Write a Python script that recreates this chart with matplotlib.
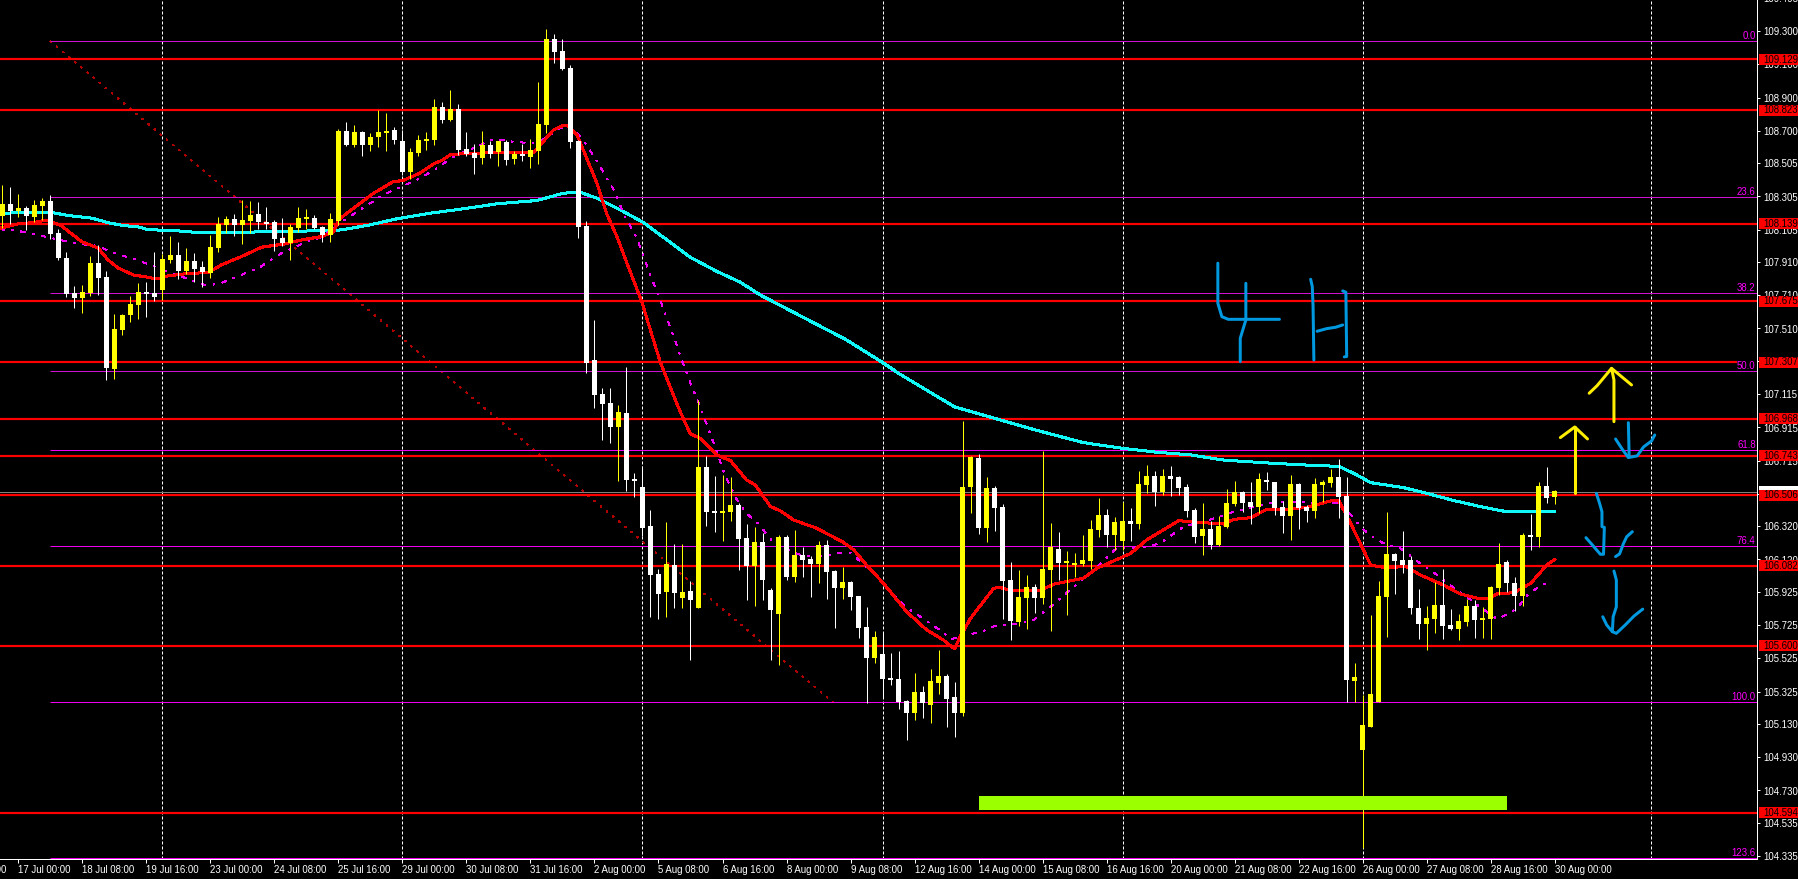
import matplotlib
matplotlib.use("Agg")
import matplotlib.pyplot as plt
from matplotlib.patches import Rectangle
from matplotlib.transforms import blended_transform_factory

plt.rcParams['font.family'] = ['Liberation Sans', 'DejaVu Sans']
plt.rcParams['lines.scale_dashes'] = False

# ---------- candles (4h bars), Y = up (yellow), W = down (white) ----------
kinds = ("YWYWYYWWWW" "YYWWYYYYWW" "YYWYWWYYYW" "YYWWWWYYYW" "WYYWYWYYYW"
         "WYYYYWYWWW" "YWYWYWYYYW" "WWWWWWWYWW" "WWWYWYWYWW" "YYWWYWWYWY"
         "WWYWWYWWWY" "WWWWYWYYWW" "YYWYWWWYYW" "YYWYYYYYWY" "YWYYWYWWWW"
         "YWYYYWWYWW" "WYWWYYYWWY" "YYYYWWWWYY" "WWYYWYYYWW" "YWYWY")

highs = [108.374,108.362,108.320,108.244,108.284,108.296,108.314,108.109,107.971,107.766,
         107.772,107.947,108.013,107.856,107.598,107.598,107.706,107.784,107.790,107.971,
         107.959,108.067,108.031,107.995,107.965,107.917,108.073,108.182,108.188,108.200,
         108.284,108.278,108.272,108.242,108.164,108.176,108.139,108.242,108.230,108.194,
         108.127,108.206,108.712,108.754,108.736,108.700,108.688,108.826,108.808,108.724,
         108.706,108.597,108.676,108.694,108.892,108.874,108.947,108.862,108.694,108.621,
         108.700,108.639,108.639,108.645,108.579,108.621,108.652,108.995,109.314,109.284,
         109.254,109.097,108.645,108.158,107.562,107.152,107.152,107.050,107.278,106.640,
         106.682,106.417,106.062,106.345,106.213,106.213,105.990,107.080,106.743,106.622,
         106.628,106.616,106.460,106.333,106.315,106.279,105.948,106.267,106.267,106.297,
         106.195,106.141,106.232,106.238,106.057,106.075,105.991,105.900,105.834,105.690,
         105.684,105.557,105.569,105.274,105.437,105.359,105.461,105.575,105.431,105.383,
         106.954,106.742,106.754,106.616,106.562,106.453,106.104,106.056,106.026,105.972,
         106.773,106.339,106.285,106.170,106.158,106.267,106.357,106.490,106.423,106.375,
         106.465,106.429,106.652,106.688,106.652,106.664,106.682,106.622,106.574,106.429,
         106.459,106.351,106.381,106.544,106.592,106.532,106.586,106.640,106.646,106.586,
         106.471,106.628,106.580,106.447,106.610,106.598,106.664,106.724,106.616,105.496,
         105.304,105.786,105.990,106.406,106.159,106.291,106.141,105.942,105.840,105.984,
         106.062,105.821,105.791,105.882,105.876,105.834,105.960,106.219,106.116,106.014,
         106.279,106.393,106.586,106.676,106.538]

body_tops = [108.260,108.260,108.236,108.236,108.254,108.278,108.278,108.085,107.935,107.724,
             107.730,107.905,107.905,107.820,107.507,107.592,107.658,107.730,107.730,107.724,
             107.929,107.953,107.953,107.917,107.917,107.881,108.001,108.139,108.170,108.170,
             108.164,108.194,108.200,108.152,108.152,108.055,108.121,108.176,108.176,108.176,
             108.121,108.170,108.700,108.700,108.694,108.694,108.664,108.694,108.700,108.706,
             108.639,108.573,108.645,108.651,108.844,108.844,108.832,108.832,108.591,108.567,
             108.615,108.615,108.639,108.633,108.561,108.561,108.585,108.742,109.254,109.254,
             109.181,109.079,108.639,108.128,107.321,107.116,107.062,107.008,107.001,106.604,
             106.556,106.321,106.032,106.092,106.086,105.924,105.930,106.676,106.676,106.411,
             106.411,106.448,106.448,106.249,106.225,106.225,105.936,106.255,106.255,106.147,
             106.147,106.123,106.207,106.207,106.051,105.985,105.985,105.900,105.714,105.654,
             105.551,105.407,105.401,105.268,105.322,105.322,105.389,105.419,105.419,105.292,
             106.556,106.736,106.730,106.550,106.550,106.435,105.996,105.894,105.954,105.954,
             106.062,106.195,106.182,106.104,106.098,106.116,106.303,106.387,106.387,106.345,
             106.351,106.351,106.574,106.622,106.622,106.622,106.622,106.616,106.556,106.417,
             106.303,106.303,106.321,106.459,106.526,106.526,106.465,106.604,106.598,106.586,
             106.435,106.574,106.574,106.435,106.574,106.586,106.616,106.616,106.502,105.412,
             105.123,105.310,105.900,106.153,106.153,106.116,106.116,105.827,105.767,105.846,
             105.846,105.725,105.749,105.840,105.840,105.767,105.954,106.092,106.104,105.978,
             106.267,106.267,106.562,106.562,106.532]

body_bottoms = [108.188,108.218,108.218,108.188,108.182,108.248,108.079,107.935,107.718,107.694,
                107.694,107.724,107.814,107.272,107.266,107.501,107.592,107.652,107.718,107.700,
                107.742,107.923,107.856,107.856,107.868,107.850,107.844,107.995,108.133,108.133,
                108.133,108.157,108.152,108.139,108.049,108.025,108.025,108.115,108.170,108.115,
                108.073,108.073,108.158,108.615,108.615,108.615,108.615,108.664,108.688,108.645,
                108.453,108.453,108.567,108.639,108.645,108.766,108.766,108.585,108.561,108.537,
                108.537,108.561,108.573,108.525,108.531,108.549,108.543,108.579,108.736,109.175,
                109.073,108.633,108.122,107.303,107.110,107.056,106.917,106.917,106.598,106.592,
                106.309,106.026,105.912,105.924,105.918,105.888,105.876,105.828,106.405,106.399,
                106.399,106.405,106.243,106.080,106.080,105.996,105.816,105.792,106.014,106.014,
                106.116,106.093,106.093,106.045,105.949,105.949,105.894,105.708,105.527,105.527,
                105.401,105.395,105.262,105.196,105.196,105.256,105.244,105.377,105.280,105.196,
                105.196,106.556,106.309,106.309,106.429,105.990,105.749,105.743,105.887,105.887,
                105.887,106.056,106.098,106.098,106.086,106.092,106.110,106.297,106.267,106.267,
                106.231,106.333,106.333,106.568,106.526,106.526,106.604,106.550,106.411,106.255,
                106.261,106.207,106.207,106.315,106.453,106.459,106.435,106.435,106.586,106.429,
                106.381,106.381,106.429,106.411,106.411,106.568,106.580,106.496,105.394,105.388,
                104.973,105.111,105.262,105.894,106.110,106.086,105.827,105.731,105.731,105.761,
                105.719,105.701,105.701,105.743,105.755,105.755,105.761,105.948,105.978,105.900,
                105.900,106.255,106.255,106.490,106.496]

lows = [108.113,108.139,108.182,108.103,108.152,108.164,108.049,107.923,107.700,107.634,
        107.604,107.706,107.712,107.200,107.206,107.471,107.549,107.567,107.579,107.676,
        107.682,107.905,107.808,107.838,107.790,107.760,107.814,107.971,108.085,108.067,
        108.019,108.085,108.109,108.109,107.977,108.007,107.923,108.091,108.109,108.109,
        108.031,108.031,108.134,108.609,108.603,108.549,108.579,108.603,108.579,108.621,
        108.435,108.411,108.549,108.585,108.615,108.748,108.760,108.555,108.549,108.441,
        108.501,108.537,108.489,108.495,108.501,108.519,108.477,108.501,108.688,109.109,
        109.067,108.597,108.055,107.243,107.032,106.839,106.821,106.592,106.532,106.496,
        106.261,105.774,105.762,105.774,105.828,105.828,105.515,105.828,106.321,106.285,
        106.231,106.351,106.056,105.876,105.840,105.876,105.515,105.485,105.996,105.984,
        106.014,105.894,105.979,105.882,105.708,105.882,105.816,105.648,105.256,105.497,
        105.292,105.365,105.220,105.033,105.154,105.166,105.136,105.310,105.112,105.051,
        105.178,106.399,106.273,106.225,106.291,105.761,105.635,105.719,105.701,105.797,
        105.851,105.689,105.996,105.785,106.014,106.080,106.062,106.255,106.195,106.176,
        106.176,106.231,106.303,106.520,106.441,106.508,106.502,106.508,106.375,106.219,
        106.146,106.182,106.201,106.309,106.441,106.405,106.333,106.399,106.538,106.387,
        106.279,106.237,106.303,106.345,106.369,106.465,106.556,106.369,105.262,105.262,
        104.383,105.111,105.262,105.653,105.912,106.038,105.791,105.641,105.575,105.677,
        105.641,105.695,105.635,105.719,105.647,105.647,105.641,105.906,105.924,105.809,
        105.840,106.177,106.195,106.460,106.454]

# ---------- moving averages (bar position, price) ----------
red_ma_x = [-0.3,1.9,3.9,4.9,5.9,7.4,9.9,12,13.2,14.5,16.4,18.2,19.3,20.7,23.2,25.7,27.4,29.9,32.4,35.3,37.4,39.9,
            41.4,42,43.9,46.4,48.9,50,52.2,53.9,55.1,56,57.6,59.7,61.8,64.3,66.4,67.6,68.9,70,70.6,71.8,72.6,74.3,
            75.5,76.8,78.3,79.9,82.2,84.1,84.9,85.95,87.2,89.3,91,93,94.1,96,97.2,98.9,101.8,105.1,106.4,108,110.1,
            113,115.5,117.6,119,119.7,121,123.9,124.7,125.95,129.7,131.4,135.1,136.8,140.1,141,143,147,150.1,152.6,
            153.9,156,158,160.5,163,166,167,168.5,169.9,171,172.6,175.5,177.2,180.1,182.2,184.7,185.5,186.8,188.9,
            191,193,194]
red_ma_y = [108.113,108.139,108.147,108.157,108.157,108.127,108.033,107.993,107.923,107.873,107.832,107.818,107.808,
            107.826,107.841,107.846,107.893,107.943,107.999,108.019,108.043,108.063,108.090,108.164,108.234,108.324,
            108.395,108.399,108.445,108.501,108.525,108.557,108.561,108.565,108.571,108.571,108.571,108.635,108.706,
            108.730,108.730,108.676,108.585,108.385,108.204,108.063,107.873,107.672,107.311,107.080,106.990,106.877,
            106.849,106.749,106.714,106.598,106.568,106.438,106.413,106.357,106.307,106.223,106.177,106.086,105.977,
            105.806,105.696,105.635,105.581,105.656,105.766,105.947,105.951,105.933,105.933,105.971,106.007,106.067,
            106.137,106.156,106.237,106.353,106.341,106.333,106.361,106.371,106.421,106.421,106.433,106.472,106.474,
            106.337,106.197,106.086,106.072,106.076,106.026,105.966,105.912,105.882,105.882,105.912,105.920,105.976,
            106.086,106.120]

slow_ma_x = [-0.3,2,4.9,7.8,9.9,12,13.7,16.6,19.5,22.4,25.3,27,29.1,32,34.9,37.8,39.9,42.2,44.7,47.6,51.8,53.9,55.5,
             56.8,58.9,61.4,64.3,66.8,68.5,69.7,71.6,73,74.7,76.4,77.8,79.3,80.5,82.2,83.9,84.9,86,87.2,88.9,90.3,
             91.8,93,94.7,95.7,96.8,99.7,102.2,104.7,105.95,107.6,109.7,112.2,113.45,115.3,117.6,118.5,120.5,122.6,
             124.3,125.5,127.2,128.9,131.4,133.45,136.4,139.3,142.2,144.7,147.6,151,153.9,158.5,161.4,165.5,167.2,
             168.9,169.9,171.6,173,174.7,177.2,178.9,180.5,183,184.9,186.8,187.8,189.3,190.7,192.4,193.7]
slow_ma_y = [108.107,108.097,108.067,108.037,108.017,108.007,107.967,107.927,107.873,107.822,107.772,107.776,107.818,
             107.873,107.963,108.027,108.059,108.144,108.224,108.314,108.405,108.461,108.515,108.555,108.595,108.650,
             108.631,108.625,108.676,108.716,108.702,108.615,108.485,108.344,108.184,108.053,107.893,107.682,107.461,
             107.321,107.180,107.040,106.819,106.628,106.478,106.397,106.327,106.257,106.207,106.147,106.137,106.161,
             106.161,106.092,106.000,105.866,105.816,105.756,105.680,105.640,105.662,105.690,105.724,105.724,105.736,
             105.756,105.852,105.937,106.057,106.190,106.187,106.217,106.317,106.361,106.407,106.461,106.467,106.458,
             106.458,106.367,106.307,106.243,106.207,106.187,106.096,106.040,105.980,105.896,105.825,105.761,105.785,
             105.825,105.912,105.966,105.986]

cyan_ma_x = [-0.3,6.2,8.2,11.2,13.2,14.9,17,18.2,22,24.5,29.1,33.2,38.7,42.4,46,49.3,53.5,57.6,61.8,66.8,70.1,72.2,
             74.3,77.6,80.1,83.9,85.95,89.3,92.2,94.7,105.5,110,112.2,119,129.1,135.1,139.9,144.3,148.5,152.6,158.9,
             163,167,168.9,171,175.1,178,181.4,184.7,188,194]
cyan_ma_y = [108.204,108.208,108.190,108.174,108.147,108.131,108.121,108.105,108.097,108.087,108.087,108.093,108.097,
             108.103,108.134,108.170,108.204,108.230,108.260,108.280,108.324,108.330,108.294,108.214,108.148,108.013,
             107.939,107.853,107.789,107.712,107.441,107.305,107.234,107.038,106.899,106.823,106.789,106.765,106.749,
             106.718,106.698,106.688,106.680,106.638,106.582,106.552,106.518,106.474,106.438,106.407,106.407]

# ---------- levels ----------
red_levels = [109.129, 108.823, 108.139, 107.675, 107.307, 106.968, 106.743, 106.506, 106.082, 105.600, 104.594]
fib_prices = [109.239, 108.300, 107.722, 107.253, 106.777, 106.199, 105.260, 104.321]
fib_labels = ["0.0", "23.6", "38.2", "50.0", "61.8", "76.4", "100.0", "123.6"]
bid_price = 106.528
trend_x = [6, 103.8]
trend_y = [109.239, 105.260]
separators = [20, 50, 80, 110, 140, 170, 206]

price_ticks = [109.300,109.100,108.900,108.700,108.505,108.305,108.105,107.910,107.710,107.510,107.315,107.115,
               106.915,106.715,106.515,106.320,106.120,105.925,105.725,105.525,105.325,105.130,104.930,104.730,
               104.535,104.335]
time_labels = ["17 Jul 00:00","18 Jul 08:00","19 Jul 16:00","23 Jul 00:00","24 Jul 08:00","25 Jul 16:00",
               "29 Jul 00:00","30 Jul 08:00","31 Jul 16:00","2 Aug 00:00","5 Aug 08:00","6 Aug 16:00",
               "8 Aug 00:00","9 Aug 08:00","12 Aug 16:00","14 Aug 00:00","15 Aug 08:00","16 Aug 16:00",
               "20 Aug 00:00","21 Aug 08:00","22 Aug 16:00","26 Aug 00:00","27 Aug 08:00","28 Aug 16:00",
               "30 Aug 00:00"]
time_ticks = list(range(2, 195, 8))

# ---------- hand drawn annotation strokes (bar position, price) ----------
blue_strokes = [
    [(151.9,107.903),(151.9,107.662),(152.4,107.581),(153.2,107.565),(159.6,107.565)],
    [(155.4,107.782),(155.4,107.561),(154.7,107.451),(154.7,107.310)],
    [(163.5,107.806),(163.7,107.762),(163.8,107.642),(163.9,107.320)],
    [(164.3,107.493),(165.5,107.509),(166.6,107.517),(167.5,107.531)],
    [(167.5,107.736),(167.9,107.728),(168.0,107.341),(167.7,107.339)],
    [(203.2,106.943),(203.3,106.737)],
    [(201.6,106.845),(202.5,106.779),(203.2,106.733),(204.3,106.743),(205.1,106.797),(206.1,106.833),(206.5,106.869)],
    [(199.2,106.518),(199.6,106.458),(199.9,106.407),(199.9,106.317),(200.2,106.313),(200.1,106.157)],
    [(197.9,106.251),(198.7,106.207),(199.7,106.151),(200.1,106.151)],
    [(201.6,106.137),(202.1,106.153),(202.6,106.217),(203.0,106.257),(203.7,106.287)],
    [(201.4,106.050),(201.7,105.996),(201.7,105.835),(201.3,105.775),(201.2,105.685)],
    [(200.0,105.775),(200.5,105.725),(201.2,105.685),(201.7,105.675),(202.8,105.725),(203.9,105.779),(205.0,105.821)],
]
yellow_strokes = [
    [(201.4,106.949),(201.4,107.200),(201.1,107.270)],
    [(198.3,107.120),(199.3,107.166),(201.1,107.270),(203.6,107.170)],
    [(196.5,106.520),(196.5,106.917)],
    [(194.7,106.853),(196.5,106.917),(198.1,106.845)],
]
green_zone_x = (122, 188)
green_zone_y = (104.612, 104.696)

# ---------- figure ----------
PX = 72 / 100  # one pixel, in points, at dpi 100
fig = plt.figure(figsize=(17.982, 8.792), dpi=100, facecolor='black')
ax = fig.add_axes([0, 20 / 879, 1757 / 1798, 859 / 879], facecolor='black')
ax.set_xlim(-0.2875, 219.3)
ax.set_ylim(104.317, 109.488)

for s in ('top', 'left'):
    ax.spines[s].set_visible(False)
for s in ('bottom', 'right'):
    ax.spines[s].set_color('white')
    ax.spines[s].set_linewidth(PX)

for x in separators:
    ax.axvline(x, color='white', lw=PX, ls=(0, (3 * PX, 2 * PX)), zorder=1)

ax.axhline(bid_price, color='#808080', lw=PX, zorder=1.5)
for lvl in red_levels:
    ax.hlines(lvl, -0.3, 216.8 if lvl == 107.307 else 219.3, color='#ff0000', lw=2.2 * PX, zorder=2)
for i, lvl in enumerate(fib_prices):
    ax.hlines(lvl, 5.96, 219.3, color='#d010d0' if i < 4 else '#f000f0', lw=PX, zorder=1.9)
ax.plot(trend_x, trend_y, color='#b00000', lw=PX, ls=(0, (2 * PX, 6 * PX)), zorder=1.8, antialiased=False)

ax.plot(cyan_ma_x, cyan_ma_y, color='#10f8f8', lw=2 * PX, zorder=3, antialiased=False)
ax.plot(slow_ma_x, slow_ma_y, color='#f000f0', lw=PX, ls=(0, (5 * PX, 8 * PX, 1.5 * PX, 8 * PX)), zorder=3, antialiased=False)
ax.plot(red_ma_x, red_ma_y, color='#ff0000', lw=2 * PX, zorder=3.1, antialiased=False)

for i, kind in enumerate(kinds):
    c = '#ffff00' if kind == 'Y' else '#ffffff'
    ax.vlines(i, lows[i], highs[i], color=c, lw=PX, zorder=4)
    top, bottom = body_tops[i], body_bottoms[i]
    ax.bar(i, max(top - bottom, 0.012), bottom=bottom, width=0.625, color=c, linewidth=0, zorder=4.1)

ax.add_patch(Rectangle((green_zone_x[0], green_zone_y[0]), green_zone_x[1] - green_zone_x[0],
                       green_zone_y[1] - green_zone_y[0], facecolor='#9cff00', edgecolor='none', zorder=5))
for stroke in blue_strokes:
    ax.plot(*zip(*stroke), color='#0099e0', lw=3 * PX, zorder=5, solid_capstyle='round', solid_joinstyle='round')
for stroke in yellow_strokes:
    ax.plot(*zip(*stroke), color='#ffee00', lw=3 * PX, zorder=5, solid_capstyle='round', solid_joinstyle='round')

# axes
TXT = 6.9
ax.yaxis.tick_right()
ax.set_yticks(price_ticks)
ax.set_yticklabels([f"{v:.3f}" for v in price_ticks])
ax.tick_params(axis='y', length=3 * PX, width=PX, color='white', labelcolor='white', labelsize=TXT, pad=3 * PX)
ax.set_xticks(time_ticks)
ax.set_xticklabels(time_labels, ha='left')
ax.tick_params(axis='x', length=4 * PX, width=PX, color='white', labelcolor='white', labelsize=TXT, pad=1.5 * PX)

ax.annotate("15 Jul 16:00", xy=(-6, 0), xycoords=('data', 'axes fraction'), xytext=(0, -5.5 * PX),
            textcoords='offset points', ha='left', va='top', color='white', fontsize=TXT, annotation_clip=False)
ax.annotate("109.495", xy=(1, 109.495), xycoords=('axes fraction', 'data'), xytext=(6 * PX, 0),
            textcoords='offset points', ha='left', va='center', color='white', fontsize=TXT, annotation_clip=False)

# price labels
tr = blended_transform_factory(ax.transAxes, ax.transData)
x0, w = 1759 / 1757, 39 / 1757
box_h = 11 * 0.00602
ax.add_patch(Rectangle((x0, bid_price - box_h / 2), w, box_h, transform=tr, facecolor='white',
                       edgecolor='none', clip_on=False, zorder=6))
for lvl in red_levels:
    ax.add_patch(Rectangle((x0, lvl - box_h / 2), w, box_h, transform=tr, facecolor='#ff0000',
                           edgecolor='none', clip_on=False, zorder=6.5))
    ax.annotate(f"{lvl:.3f}", xy=(1, lvl), xycoords=('axes fraction', 'data'), xytext=(6 * PX, 0),
                textcoords='offset points', ha='left', va='center', color='black', fontsize=TXT,
                annotation_clip=False, zorder=7)

for lvl, lab in zip(fib_prices, fib_labels):
    ax.annotate(lab, xy=(1, lvl), xycoords=('axes fraction', 'data'), xytext=(-1.5 * PX, 2.5 * PX),
                textcoords='offset points', ha='right', va='baseline', color='#ff00ff', fontsize=TXT, zorder=7)

fig.savefig('out.png', dpi=100, facecolor='black')
